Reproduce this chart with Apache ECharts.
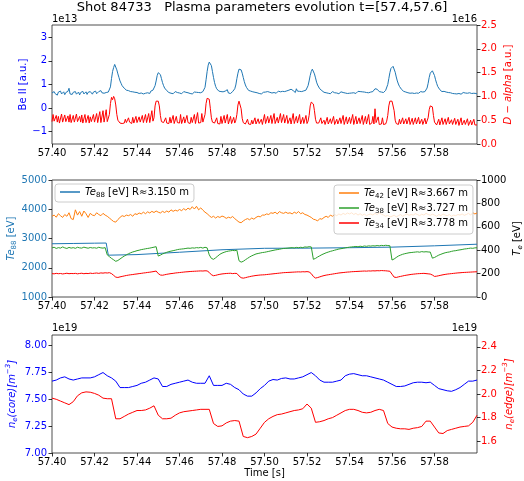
<!DOCTYPE html>
<html>
<head>
<meta charset="utf-8">
<script src="https://cdn.jsdelivr.net/npm/echarts@6/dist/echarts.min.js"></script>
<style>
  html, body { margin: 0; padding: 0; background: #fff; }
  #chart { width: 524px; height: 481px; }
</style>
</head>
<body>
<div id="chart"></div>
<script>
// ---- Time axis ----
const tStart = 57.40, tEnd = 57.60;
const timeTicks = [57.40, 57.42, 57.44, 57.46, 57.48, 57.50, 57.52, 57.54, 57.56, 57.58];

// ---- Panel 1: Be II (x1e13) and D-alpha (x1e16), sampled every 0.5 ms ----
const beIIStep = 0.0005;
const beII = [
  0.64,0.58,0.70,0.61,0.66,0.55,0.68,0.62,0.72,0.60,
  0.63,0.69,0.57,0.66,0.62,0.71,0.84,0.60,0.65,0.58,
  0.67,0.61,0.70,0.59,0.64,0.68,0.56,0.66,0.63,0.71,
  0.60,0.65,0.69,0.58,0.67,0.62,0.70,0.64,0.59,0.68,
  0.63,0.72,0.61,0.66,0.70,0.62,0.74,0.65,0.69,0.63,
  0.71,0.66,0.73,0.68,0.74,0.90,1.25,1.55,1.72,1.85,
  1.78,1.62,1.45,1.30,1.15,1.05,0.95,0.90,0.84,0.80,
  0.76,0.72,0.74,0.68,0.70,0.65,0.69,0.63,0.67,0.61,
  0.66,0.70,0.62,0.68,0.64,0.71,0.60,0.67,0.63,0.69,
  0.65,0.70,0.62,0.72,0.68,0.76,0.80,0.95,1.15,1.38,
  1.50,1.53,1.42,1.25,1.08,0.95,0.85,0.78,0.74,0.70,
  0.66,0.69,0.63,0.67,0.61,0.65,0.70,0.62,0.66,0.60,
  0.64,0.68,0.61,0.66,0.70,0.63,0.67,0.62,0.65,0.69,
  0.62,0.66,0.60,0.65,0.68,0.62,0.67,0.63,0.66,0.61,
  0.65,0.68,0.70,0.75,0.88,1.20,1.55,1.82,1.95,1.98,
  1.80,1.55,1.30,1.08,0.92,0.82,0.76,0.72,0.68,0.70,
  0.65,0.69,0.63,0.72,0.66,0.78,0.64,0.70,0.62,0.67,
  0.70,0.74,0.82,0.98,1.25,1.48,1.65,1.70,1.62,1.48,
  1.30,1.12,0.98,0.88,0.80,0.75,0.70,0.72,0.66,0.69,
  0.63,0.67,0.61,0.65,0.68,0.62,0.66,0.60,0.64,0.67,
  0.62,0.68,0.65,0.70,0.63,0.67,0.72,0.64,0.69,0.66,
  0.70,0.63,0.68,0.72,0.65,0.69,0.64,0.71,0.66,0.70,
  0.67,0.73,0.68,0.76,0.84,0.80,0.86,0.74,0.70,0.66,
  0.82,0.72,0.68,0.71,0.66,0.70,0.68,0.73,0.72,0.76,
  0.80,0.95,1.15,1.38,1.55,1.65,1.60,1.45,1.28,1.10,
  0.98,0.90,0.82,0.78,0.74,0.70,0.67,0.71,0.65,0.69,
  0.63,0.67,0.61,0.66,0.70,0.62,0.65,0.60,0.64,0.68,
  0.61,0.65,0.69,0.62,0.66,0.60,0.64,0.67,0.62,0.66,
  0.63,0.68,0.64,0.70,0.65,0.69,0.62,0.67,0.71,0.66,
  0.70,0.66,0.69,0.64,0.68,0.72,0.66,0.70,0.65,0.69,
  0.68,0.72,0.70,0.76,0.82,0.86,0.80,0.74,0.70,0.72,
  0.68,0.72,0.66,0.70,0.75,0.82,1.00,1.25,1.50,1.68,
  1.75,1.77,1.70,1.52,1.32,1.15,1.02,0.92,0.85,0.79,
  0.75,0.71,0.73,0.68,0.70,0.65,0.68,0.63,0.67,0.64,
  0.66,0.62,0.68,0.64,0.69,0.63,0.67,0.70,0.64,0.68,
  0.66,0.70,0.75,0.85,1.05,1.30,1.48,1.55,1.58,1.52,
  1.38,1.20,1.05,0.92,0.84,0.78,0.74,0.70,0.67,0.71,
  0.64,0.68,0.62,0.66,0.60,0.65,0.69,0.62,0.66,0.61,
  0.64,0.60,0.66,0.62,0.67,0.59,0.63,0.66,0.61,0.64,
  0.60,0.63,0.58,0.65,0.61,0.62,0.57,0.63,0.60,0.62,
  0.60
];
const dAlpha = [
  0.47,0.62,0.48,0.45,0.60,0.46,0.58,0.44,0.47,0.63,
  0.46,0.45,0.61,0.47,0.44,0.59,0.46,0.62,0.45,0.48,
  0.60,0.46,0.44,0.63,0.47,0.45,0.58,0.46,0.61,0.44,
  0.47,0.62,0.45,0.46,0.60,0.44,0.57,0.47,0.45,0.62,
  0.46,0.44,0.64,0.45,0.47,0.68,0.45,0.44,0.70,0.46,
  0.45,0.72,0.47,0.50,0.62,0.85,0.98,0.93,1.00,0.95,
  0.82,0.62,0.50,0.46,0.44,0.45,0.43,0.46,0.44,0.52,
  0.45,0.44,0.55,0.46,0.45,0.43,0.56,0.44,0.46,0.58,
  0.45,0.44,0.57,0.46,0.44,0.60,0.45,0.43,0.62,0.45,
  0.44,0.64,0.45,0.46,0.70,0.48,0.55,0.80,0.90,0.92,
  0.90,0.80,0.60,0.47,0.44,0.45,0.43,0.55,0.44,0.45,
  0.43,0.56,0.44,0.45,0.60,0.43,0.44,0.58,0.45,0.43,
  0.44,0.62,0.43,0.45,0.57,0.44,0.43,0.60,0.45,0.44,
  0.43,0.56,0.45,0.44,0.62,0.43,0.45,0.66,0.44,0.46,
  0.45,0.64,0.46,0.50,0.62,0.85,0.96,0.99,0.94,0.75,
  0.55,0.46,0.43,0.44,0.42,0.55,0.43,0.44,0.42,0.58,
  0.43,0.42,0.60,0.44,0.43,0.62,0.42,0.44,0.58,0.43,
  0.42,0.56,0.44,0.50,0.62,0.82,0.90,0.88,0.74,0.54,
  0.45,0.43,0.42,0.44,0.52,0.42,0.43,0.41,0.50,0.42,
  0.43,0.55,0.42,0.41,0.53,0.43,0.42,0.52,0.41,0.43,
  0.62,0.43,0.42,0.58,0.44,0.42,0.60,0.43,0.45,0.64,
  0.43,0.42,0.56,0.44,0.43,0.64,0.45,0.43,0.62,0.44,
  0.42,0.60,0.43,0.45,0.55,0.42,0.44,0.64,0.43,0.42,
  0.58,0.44,0.43,0.62,0.42,0.45,0.56,0.43,0.42,0.60,
  0.43,0.48,0.60,0.80,0.88,0.89,0.84,0.70,0.52,0.44,
  0.42,0.44,0.41,0.55,0.43,0.42,0.50,0.41,0.43,0.56,
  0.42,0.41,0.53,0.43,0.42,0.58,0.41,0.43,0.52,0.42,
  0.41,0.55,0.43,0.42,0.60,0.41,0.43,0.57,0.42,0.41,
  0.56,0.43,0.42,0.62,0.41,0.44,0.58,0.42,0.41,0.55,
  0.43,0.42,0.60,0.41,0.44,0.58,0.42,0.43,0.62,0.41,
  0.42,0.44,0.58,0.42,0.74,0.45,0.42,0.57,0.41,0.43,
  0.42,0.55,0.41,0.43,0.42,0.48,0.60,0.80,0.90,0.92,
  0.90,0.86,0.70,0.50,0.43,0.42,0.41,0.52,0.42,0.41,
  0.55,0.42,0.41,0.53,0.42,0.43,0.56,0.41,0.42,0.54,
  0.41,0.43,0.55,0.42,0.41,0.56,0.42,0.43,0.52,0.41,
  0.42,0.54,0.42,0.45,0.55,0.72,0.80,0.82,0.78,0.60,
  0.46,0.42,0.40,0.41,0.52,0.40,0.42,0.55,0.41,0.40,
  0.53,0.41,0.40,0.56,0.42,0.40,0.51,0.41,0.40,0.54,
  0.41,0.40,0.52,0.39,0.41,0.55,0.40,0.39,0.50,0.41,
  0.40,0.53,0.39,0.41,0.50,0.40,0.39,0.52,0.40,0.38,
  0.40
];
const beIITicks = [-1, 0, 1, 2, 3];
const dAlphaTicks = [0, 0.5, 1.0, 1.5, 2.0, 2.5];

// ---- Panel 2: ECE electron temperatures [eV] ----
const te88Time = [57.400, 57.410, 57.420, 57.4255, 57.4265, 57.440, 57.460, 57.480, 57.500, 57.520, 57.540, 57.560, 57.580, 57.600];
const te88 = [2820, 2830, 2840, 2845, 2430, 2450, 2530, 2615, 2665, 2670, 2685, 2705, 2750, 2805];
const teStep = 0.001;
const te42 = [
  690,700,682,712,695,680,705,690,720,670,
  662,745,700,730,690,735,712,680,715,700,
  695,720,705,695,715,700,690,675,660,645,
  640,662,680,695,688,700,695,705,690,712,
  705,718,710,725,712,728,718,732,722,735,
  725,718,732,722,735,725,745,732,742,735,
  748,738,755,742,760,748,772,752,775,745,
  762,742,725,712,695,680,690,675,688,680,
  692,685,672,682,676,688,670,655,640,635,
  650,662,670,660,675,665,680,690,685,700,
  700,710,705,720,715,725,710,730,720,715,
  725,715,720,710,725,715,730,712,720,705,
  700,690,680,665,660,650,670,665,680,690,
  680,700,690,705,695,710,700,715,705,718,
  710,720,705,715,700,712,698,708,695,705,
  710,700,715,705,720,708,700,690,698,685,
  690,700,685,695,705,690,700,710,698,705,
  700,712,705,695,708,700,715,705,698,708,
  700,690,705,695,710,700,695,705,690,700,
  695,705,700,710,698,705,715,700,720,710,
  718
];
const te38 = [
  420,425,415,422,418,428,420,415,424,418,
  422,416,425,420,418,426,421,417,423,419,
  421,417,425,420,418,422,360,345,330,318,
  305,312,325,338,350,360,370,378,385,390,
  396,400,405,408,412,415,418,422,426,430,
  350,358,368,375,382,388,392,396,400,405,
  408,410,412,415,418,416,420,418,422,420,
  424,418,425,420,360,330,322,335,350,365,
  375,382,388,392,395,398,396,400,310,298,
  305,318,330,342,352,360,368,372,376,380,
  382,386,390,394,398,402,405,408,412,415,
  416,418,420,422,419,424,421,425,422,428,
  426,430,428,322,330,342,352,362,370,378,
  384,390,395,400,405,410,413,416,420,423,
  426,428,430,432,429,434,431,436,433,437,
  435,438,436,440,437,441,439,442,440,438,
  316,325,338,350,358,365,370,374,378,380,
  382,384,386,383,388,385,387,385,384,332,
  338,348,358,365,372,378,382,385,390,394,
  396,400,403,406,410,412,415,418,416,420,
  421
];
const te34 = [
  200,198,202,199,201,197,200,203,199,201,
  200,202,198,201,203,199,202,200,204,201,
  203,205,202,206,204,207,205,208,200,185,
  170,167,172,176,180,184,187,190,192,195,
  197,200,202,205,207,210,212,215,218,222,
  200,188,186,190,194,197,200,202,205,207,
  209,211,213,215,216,218,219,220,221,222,
  223,222,224,223,210,190,182,185,190,194,
  197,199,201,202,203,200,202,201,180,165,
  161,165,170,174,178,181,184,186,188,189,
  190,192,194,196,198,200,202,204,206,208,
  209,210,211,212,213,214,215,214,216,215,
  217,214,200,175,162,166,172,178,183,187,
  190,193,196,199,202,205,207,209,211,213,
  214,216,217,218,219,220,221,222,221,223,
  222,224,223,225,224,226,225,224,222,220,
  195,170,167,172,176,180,184,187,190,193,
  195,197,199,200,201,202,200,198,196,188,
  176,178,182,186,190,193,196,198,200,202,
  204,206,207,209,210,211,212,213,214,215,
  216
];
const teRadius = { Te88: '3.150', Te42: '3.667', Te38: '3.727', Te34: '3.778' };
const te88Ticks = [1000, 2000, 3000, 4000, 5000];
const teTicks = [0, 200, 400, 600, 800, 1000];

// ---- Panel 3: line-integrated densities (x1e19 m^-3), sampled every 2 ms ----
const neStep = 0.002;
const neCore = [
  7.67,7.68,7.70,7.71,7.69,7.68,7.69,7.70,7.70,7.70,
  7.71,7.73,7.75,7.72,7.70,7.67,7.61,7.61,7.61,7.62,
  7.63,7.65,7.66,7.68,7.70,7.69,7.62,7.62,7.64,7.65,
  7.66,7.67,7.68,7.66,7.65,7.65,7.65,7.72,7.63,7.63,
  7.63,7.65,7.64,7.61,7.59,7.55,7.53,7.53,7.56,7.60,
  7.63,7.67,7.685,7.68,7.695,7.70,7.69,7.69,7.70,7.71,
  7.73,7.75,7.72,7.68,7.66,7.66,7.66,7.67,7.68,7.72,
  7.735,7.74,7.73,7.72,7.72,7.71,7.70,7.69,7.68,7.66,
  7.64,7.62,7.62,7.625,7.64,7.655,7.66,7.66,7.655,7.66,
  7.63,7.60,7.59,7.58,7.575,7.59,7.61,7.64,7.67,7.67,
  7.68
];
const neEdge = [
  1.965,1.955,1.94,1.925,1.91,1.935,1.985,2.01,2.018,2.015,
  2.005,1.99,1.965,1.96,1.96,1.79,1.79,1.81,1.83,1.845,
  1.86,1.86,1.865,1.88,1.90,1.82,1.79,1.79,1.795,1.82,
  1.84,1.85,1.855,1.86,1.865,1.87,1.87,1.87,1.75,1.725,
  1.73,1.755,1.77,1.775,1.77,1.64,1.63,1.64,1.66,1.71,
  1.76,1.79,1.81,1.825,1.83,1.84,1.85,1.86,1.865,1.875,
  1.915,1.88,1.76,1.765,1.775,1.79,1.80,1.82,1.84,1.86,
  1.87,1.87,1.86,1.845,1.84,1.845,1.86,1.87,1.86,1.75,
  1.72,1.71,1.705,1.705,1.70,1.71,1.715,1.725,1.77,1.77,
  1.72,1.67,1.665,1.69,1.70,1.71,1.72,1.725,1.73,1.76,
  1.82
];
const neCoreTicks = [7.00, 7.25, 7.50, 7.75, 8.00];
const neEdgeTicks = [1.6, 1.8, 2.0, 2.2, 2.4];

// ---- helpers ----
function sampled(values, step) {
  return values.map((v, i) => [+(tStart + i * step).toFixed(5), v]);
}
function paired(times, values) {
  return times.map((t, i) => [t, values[i]]);
}
const FONT = 'DejaVu Sans';
const C0 = '#1f77b4', C1 = '#ff7f0e', C2 = '#2ca02c';
const minus = v => (v < 0 ? '\u2212' + Math.abs(v) : String(v));

function richStyles(color) {
  return {
    n: { fontFamily: FONT, fontSize: 10, color: color, lineHeight: 14 },
    i: { fontFamily: FONT, fontSize: 10, fontStyle: 'italic', color: color, lineHeight: 14 },
    s: { fontFamily: FONT, fontSize: 7, color: color, lineHeight: 8, verticalAlign: 'bottom' },
    si: { fontFamily: FONT, fontSize: 7, fontStyle: 'italic', color: color, lineHeight: 8, verticalAlign: 'bottom' },
    sup: { fontFamily: FONT, fontSize: 7, fontStyle: 'italic', color: color, lineHeight: 8, verticalAlign: 'top' }
  };
}

const grids = [
  { left: 52, right: 47, top: 25, height: 119 },
  { left: 52, right: 47, top: 180, height: 117 },
  { left: 52, right: 47, top: 335, height: 118 }
].map(g => Object.assign(g, {
  show: true, borderColor: '#222', borderWidth: 0.8, backgroundColor: 'transparent',
  containLabel: false, outerBoundsMode: 'none'
}));

function xAxis(gridIndex, withName) {
  const ax = {
    type: 'value', gridIndex: gridIndex, min: tStart, max: tEnd, position: 'bottom',
    axisLine: { show: false, onZero: false },
    splitLine: { show: false },
    axisTick: { show: true, length: 3.5, lineStyle: { color: '#000', width: 0.8 }, customValues: timeTicks },
    axisLabel: { customValues: timeTicks, margin: 4, fontFamily: FONT, fontSize: 10, color: '#000',
                 formatter: v => v.toFixed(2) }
  };
  if (withName) {
    ax.name = 'Time [s]';
    ax.nameLocation = 'middle';
    ax.nameGap = 15;
    ax.nameMoveOverlap = false;
    ax.nameTextStyle = { fontFamily: FONT, fontSize: 10, color: '#000' };
  }
  return ax;
}

function yAxis(gridIndex, position, min, max, ticks, fmt, color, name, nameGap) {
  return {
    type: 'value', gridIndex: gridIndex, position: position, min: min, max: max,
    axisLine: { show: false, onZero: false },
    splitLine: { show: false },
    axisTick: { show: true, length: 3.5, lineStyle: { color: '#000', width: 0.8 }, customValues: ticks },
    axisLabel: { customValues: ticks, margin: position === 'left' ? 5 : 4, fontFamily: FONT, fontSize: 10,
                 color: color, formatter: fmt },
    name: name, nameLocation: 'middle', nameGap: nameGap, nameMoveOverlap: false,
    nameRotate: 90,
    nameTextStyle: { fontFamily: FONT, fontSize: 10, color: color, rich: richStyles(color) }
  };
}

function line(name, data, xi, yi, color) {
  return {
    name: name, type: 'line', data: data, xAxisIndex: xi, yAxisIndex: yi,
    showSymbol: false, symbol: 'none', animation: false,
    lineStyle: { color: color, width: 1 }, itemStyle: { color: color }
  };
}

const legendRich = richStyles('#000');
const legendFmt = name => `{i|Te}{s|${name.slice(2)}}{n| [eV] R\u2248${teRadius[name]} m}`;

const option = {
  backgroundColor: '#fff',
  animation: false,
  title: {
    text: 'Shot 84733   Plasma parameters evolution t=[57.4,57.6]',
    left: 'center', top: 1, padding: 0,
    textStyle: { fontFamily: FONT, fontSize: 13, fontWeight: 'normal', color: '#000' }
  },
  grid: grids,
  xAxis: [xAxis(0, false), xAxis(1, false), xAxis(2, true)],
  yAxis: [
    yAxis(0, 'left', -1.52, 3.52, beIITicks, minus, '#0000ff', 'Be II [a.u.]', 24),
    yAxis(0, 'right', 0, 2.5, dAlphaTicks, v => v.toFixed(1), '#ff0000',
          '{i|D} {n|\u2212} {i|alpha} {n|[a.u.]}', 24),
    yAxis(1, 'left', 1000, 5000, te88Ticks, v => String(v), C0, '{i|Te}{s|88}{n| [eV]}', 34),
    yAxis(1, 'right', 0, 1000, teTicks, v => String(v), '#000', '{i|T}{si|e}{n| [eV]}', 33),
    yAxis(2, 'left', 7.0, 8.1, neCoreTicks, v => v.toFixed(2), '#0000ff',
          '{i|n}{si|e}{i|(core)[m}{sup|\u22123}{i|]}', 33),
    yAxis(2, 'right', 1.5, 2.5, neEdgeTicks, v => v.toFixed(1), '#ff0000',
          '{i|n}{si|e}{i|(edge)[m}{sup|\u22123}{i|]}', 25)
  ],
  legend: [
    {
      data: ['Te88'], left: 55, top: 184, orient: 'horizontal',
      icon: 'rect', itemWidth: 20, itemHeight: 1.5,
      padding: [3, 5, 3, 5], backgroundColor: 'rgba(255,255,255,0.8)',
      borderColor: '#cccccc', borderWidth: 1, borderRadius: 3,
      formatter: legendFmt, textStyle: { fontFamily: FONT, fontSize: 10, color: '#000', rich: legendRich }
    },
    {
      data: ['Te42', 'Te38', 'Te34'], left: 334, top: 185, orient: 'vertical', itemGap: 3,
      icon: 'rect', itemWidth: 20, itemHeight: 1.5,
      padding: [3, 5, 4, 5], backgroundColor: 'rgba(255,255,255,0.8)',
      borderColor: '#cccccc', borderWidth: 1, borderRadius: 3,
      formatter: legendFmt, textStyle: { fontFamily: FONT, fontSize: 10, color: '#000', rich: legendRich }
    }
  ],
  graphic: [
    { type: 'text', left: 52, top: 14, style: { text: '1e13', font: '10px "DejaVu Sans"', fill: '#000' } },
    { type: 'text', right: 47, top: 14, style: { text: '1e16', font: '10px "DejaVu Sans"', fill: '#000' } },
    { type: 'text', left: 52, top: 323, style: { text: '1e19', font: '10px "DejaVu Sans"', fill: '#000' } },
    { type: 'text', right: 47, top: 323, style: { text: '1e19', font: '10px "DejaVu Sans"', fill: '#000' } }
  ],
  series: [
    line('Be II', sampled(beII, beIIStep), 0, 0, C0),
    line('D-alpha', sampled(dAlpha, beIIStep), 0, 1, '#ff0000'),
    line('Te88', paired(te88Time, te88), 1, 2, C0),
    line('Te42', sampled(te42, teStep), 1, 3, C1),
    line('Te38', sampled(te38, teStep), 1, 3, C2),
    line('Te34', sampled(te34, teStep), 1, 3, '#ff0000'),
    line('ne core', sampled(neCore, neStep), 2, 4, '#0000ff'),
    line('ne edge', sampled(neEdge, neStep), 2, 5, '#ff0000')
  ]
};

const chart = echarts.init(document.getElementById('chart'), null, { renderer: 'canvas' });
chart.setOption(option);
</script>
</body>
</html>
